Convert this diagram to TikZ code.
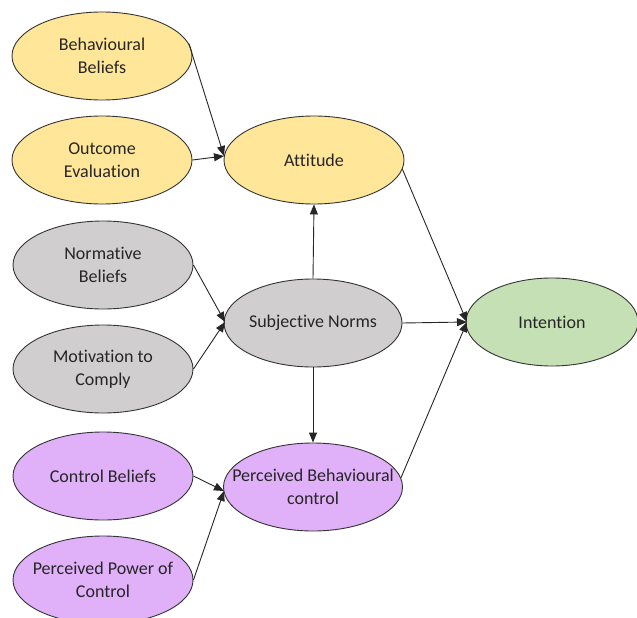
\documentclass[tikz,border=0pt]{standalone}
\usepackage{fontspec}
\setmainfont{Carlito}[Ligatures=NoCommon]
\usetikzlibrary{shapes.geometric,arrows.meta}
\definecolor{yel}{HTML}{FFE699}
\definecolor{gry}{HTML}{D0CECE}
\definecolor{pur}{HTML}{E0B0F8}
\definecolor{grn}{HTML}{C5E0B4}
\begin{document}
\begin{tikzpicture}[x=1pt,y=-1pt,
  ell/.style={ellipse,draw=black!80,line width=0.9pt,minimum width=180pt,minimum height=88pt,inner sep=0pt},
  txt/.style={align=center,font=\fontsize{18}{23}\selectfont,text=black!85,inner sep=0pt},
  arr/.style={-{Triangle[length=10pt,width=8pt]},line width=0.9pt,draw=black!85}]
\useasboundingbox (0,0) rectangle (637,618);
\node[ell,fill=yel,label={[txt]center:Behavioural\\Beliefs}] (bb) at (102,56) {};
\node[ell,fill=yel,label={[txt]center:Outcome\\Evaluation}] (oe) at (102,160) {};
\node[ell,fill=yel,label={[txt]center:Attitude}] (att) at (314,160) {};
\node[ell,fill=gry,label={[txt]center:Normative\\Beliefs}] (nb) at (103,265) {};
\node[ell,fill=gry,minimum width=178pt,label={[txt]center:Subjective Norms}] (sn) at (313,323) {};
\node[ell,fill=gry,label={[txt]center:Motivation to\\Comply}] (mc) at (103,369) {};
\node[ell,fill=grn,minimum width=172pt,label={[txt]center:Intention}] (int) at (552,322) {};
\node[ell,fill=pur,label={[txt]center:Control Beliefs}] (cb) at (103,476) {};
\node[ell,fill=pur,minimum width=179pt,label={[txt]center:Perceived Behavioural\\control}] (pbc) at (313,487) {};
\node[ell,fill=pur,label={[txt]center:Perceived Power of\\Control}] (ppc) at (103,580) {};
\coordinate (attin) at (224,156);
\coordinate (snin) at (225,322);
\coordinate (pbcin) at (224,491);
\coordinate (intin) at (467,322);
\draw[arr] (bb.8) -- (attin);
\draw[arr] (oe.east) -- (attin);
\draw[arr] (nb.east) -- (snin);
\draw[arr] (mc.east) -- (snin);
\draw[arr] (cb.east) -- (pbcin);
\draw[arr] (ppc.east) -- (pbcin);
\draw[arr] (sn.north) -- (att.south);
\draw[arr] (sn.south) -- (pbc.north);
\draw[arr] (sn.east) -- (intin);
\draw[arr] (att.-6) -- (intin);
\draw[arr] (pbc.6) -- (intin);
\end{tikzpicture}
\end{document}
